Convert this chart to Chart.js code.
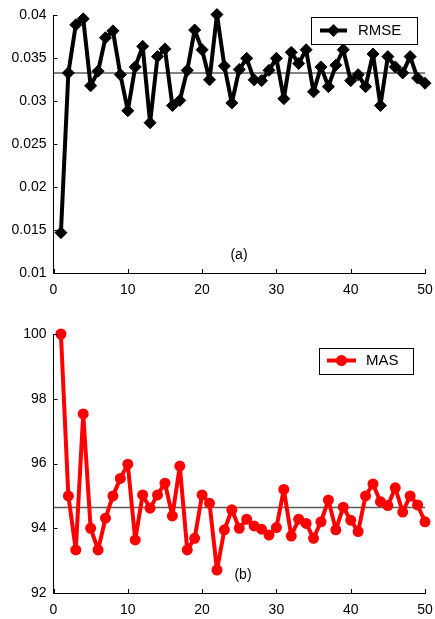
<!DOCTYPE html>
<html>
<head>
<meta charset="utf-8">
<title>RMSE / MAS</title>
<script src="https://cdn.jsdelivr.net/npm/chart.js@4.4.1/dist/chart.umd.min.js"></script>
<style>
  body { margin: 0; background: #fff; }
  canvas { position: absolute; left: 0; }
  #rmseChart { top: 0; }
  #masChart { top: 305px; }
</style>
</head>
<body>
<canvas id="rmseChart" width="435" height="300"></canvas>
<canvas id="masChart" width="435" height="314"></canvas>
<script>
var iterations = [1, 2, 3, 4, 5, 6, 7, 8, 9, 10,
                  11, 12, 13, 14, 15, 16, 17, 18, 19, 20,
                  21, 22, 23, 24, 25, 26, 27, 28, 29, 30,
                  31, 32, 33, 34, 35, 36, 37, 38, 39, 40,
                  41, 42, 43, 44, 45, 46, 47, 48, 49, 50];

var rmseValues = [0.0147, 0.0333, 0.0389, 0.0396, 0.0318, 0.0335, 0.0374, 0.0382, 0.0331, 0.0289,
                  0.0340, 0.0364, 0.0275, 0.0352, 0.0361, 0.0295, 0.0301, 0.0336, 0.0383, 0.0360,
                  0.0325, 0.0401, 0.0341, 0.0298, 0.0337, 0.0350, 0.0325, 0.0324, 0.0336, 0.0350,
                  0.0303, 0.0357, 0.0344, 0.0360, 0.0311, 0.0340, 0.0317, 0.0342, 0.0360, 0.0324,
                  0.0331, 0.0317, 0.0355, 0.0295, 0.0352, 0.0340, 0.0333, 0.0352, 0.0327, 0.0321];

var masValues = [100.0, 95.0, 93.33, 97.53, 94.0, 93.33, 94.31, 95.0, 95.54, 95.98,
                 93.64, 95.03, 94.62, 95.03, 95.39, 94.38, 95.92, 93.33, 93.69, 95.03,
                 94.77, 92.71, 93.95, 94.57, 94.0, 94.28, 94.07, 93.97, 93.79, 94.02,
                 95.2, 93.76, 94.28, 94.15, 93.69, 94.2, 94.87, 93.95, 94.65, 94.25,
                 93.9, 95.0, 95.37, 94.82, 94.7, 95.25, 94.5, 95.0, 94.72, 94.2];

var rmseMean = 0.0333;
var masMean = 94.64;

var xTicks = [0, 10, 20, 30, 40, 50];
var rmseTicks = [0.01, 0.015, 0.02, 0.025, 0.03, 0.035, 0.04];
var masTicks = [92, 94, 96, 98, 100];

var FONT = '"Liberation Sans", Arial, sans-serif';
Chart.defaults.font.family = FONT;
Chart.defaults.color = '#000';

function toPoints(values) {
  return iterations.map(function(it, i) { return { x: it, y: values[i] }; });
}

function drawMarker(ctx, style, x, y, r) {
  ctx.beginPath();
  if (style === 'rectRot') {
    ctx.moveTo(x, y - r);
    ctx.lineTo(x + r, y);
    ctx.lineTo(x, y + r);
    ctx.lineTo(x - r, y);
    ctx.closePath();
  } else {
    ctx.arc(x, y, r, 0, Math.PI * 2);
  }
  ctx.fill();
}

// inward tick marks, boxed legend and panel caption
var paperPlugin = {
  id: 'paper',
  afterDatasetsDraw: function(chart, args, opts) {
    var ctx = chart.ctx, area = chart.chartArea;
    var xs = chart.scales.x, ys = chart.scales.y;
    ctx.save();
    ctx.strokeStyle = '#000';
    ctx.lineWidth = 1;
    ctx.beginPath();
    xs.ticks.forEach(function(t) {
      var px = Math.round(xs.getPixelForValue(t.value)) + 0.5;
      ctx.moveTo(px, area.bottom);
      ctx.lineTo(px, area.bottom - 4);
    });
    ys.ticks.forEach(function(t) {
      var py = Math.round(ys.getPixelForValue(t.value)) + 0.5;
      ctx.moveTo(area.left, py);
      ctx.lineTo(area.left + 4, py);
    });
    ctx.stroke();

    var lg = opts.legend;
    ctx.fillStyle = '#fff';
    ctx.fillRect(lg.box[0], lg.box[1], lg.box[2], lg.box[3]);
    ctx.strokeRect(lg.box[0] + 0.5, lg.box[1] + 0.5, lg.box[2], lg.box[3]);
    ctx.strokeStyle = lg.color;
    ctx.fillStyle = lg.color;
    ctx.lineWidth = 4;
    ctx.beginPath();
    ctx.moveTo(lg.line[0], lg.line[2]);
    ctx.lineTo(lg.line[1], lg.line[2]);
    ctx.stroke();
    drawMarker(ctx, lg.pointStyle, (lg.line[0] + lg.line[1]) / 2, lg.line[2], lg.radius);
    ctx.fillStyle = '#000';
    ctx.font = '15px ' + FONT;
    ctx.textBaseline = 'middle';
    ctx.textAlign = 'left';
    ctx.fillText(chart.data.datasets[0].label, lg.textX, lg.line[2]);

    ctx.font = '14px ' + FONT;
    ctx.textAlign = 'center';
    ctx.fillText(opts.caption.text, opts.caption.x, opts.caption.y);
    ctx.restore();
  }
};

function makeChart(id, cfg) {
  return new Chart(document.getElementById(id), {
    type: 'line',
    data: {
      datasets: [{
        label: cfg.label,
        data: toPoints(cfg.values),
        borderColor: cfg.color,
        backgroundColor: cfg.color,
        borderWidth: 4,
        borderJoinStyle: 'round',
        pointStyle: cfg.pointStyle,
        pointRadius: cfg.pointRadius,
        pointBorderWidth: cfg.pointBorder,
        pointBackgroundColor: cfg.color,
        pointBorderColor: cfg.color,
        tension: 0,
        clip: false
      }, {
        label: 'mean',
        data: [{ x: 0, y: cfg.mean }, { x: 50, y: cfg.mean }],
        borderColor: '#5a5a5a',
        borderWidth: 1.5,
        pointRadius: 0
      }]
    },
    options: {
      responsive: false,
      animation: false,
      devicePixelRatio: 1,
      layout: { padding: { top: cfg.padTop, right: 10, left: 0, bottom: 0 } },
      plugins: {
        legend: { display: false },
        tooltip: { enabled: false },
        paper: { legend: cfg.legend, caption: cfg.caption }
      },
      scales: {
        x: {
          type: 'linear',
          min: 0,
          max: 50,
          afterBuildTicks: function(s) { s.ticks = xTicks.map(function(v) { return { value: v }; }); },
          afterFit: function(s) {
            s.height = cfg.xHeight;
            s.paddingLeft = 0;
            s.paddingRight = 0;
          },
          grid: { display: true, drawOnChartArea: false, drawTicks: false },
          border: { color: '#000', width: 1 },
          ticks: { font: { size: 14 }, padding: 9, maxRotation: 0 }
        },
        y: {
          min: cfg.min,
          max: cfg.max,
          afterBuildTicks: function(s) { s.ticks = cfg.ticks.map(function(v) { return { value: v }; }); },
          afterFit: function(s) { s.width = 53.5; },
          grid: { display: true, drawOnChartArea: false, drawTicks: false },
          border: { color: '#000', width: 1 },
          ticks: {
            font: { size: 14 },
            padding: 7,
            callback: function(v) { return String(+v.toFixed(4)); }
          }
        }
      }
    },
    plugins: [paperPlugin]
  });
}

makeChart('rmseChart', {
  label: 'RMSE',
  values: rmseValues,
  mean: rmseMean,
  color: '#000',
  pointStyle: 'rectRot',
  pointRadius: 6,
  pointBorder: 1,
  min: 0.01,
  max: 0.04,
  ticks: rmseTicks,
  padTop: 14.5,
  xHeight: 27,
  legend: { box: [311, 17, 106, 27], line: [320, 347, 30.5], pointStyle: 'rectRot', radius: 6.5, color: '#000', textX: 358 },
  caption: { text: '(a)', x: 239, y: 255 }
});

makeChart('masChart', {
  label: 'MAS',
  values: masValues,
  mean: masMean,
  color: '#ff0000',
  pointStyle: 'circle',
  pointRadius: 4.5,
  pointBorder: 2,
  min: 92,
  max: 100,
  ticks: masTicks,
  padTop: 29,
  xHeight: 26,
  legend: { box: [319, 43, 94, 26], line: [327, 356, 55.5], pointStyle: 'circle', radius: 5.5, color: '#ff0000', textX: 366 },
  caption: { text: '(b)', x: 243, y: 270 }
});
</script>
</body>
</html>
